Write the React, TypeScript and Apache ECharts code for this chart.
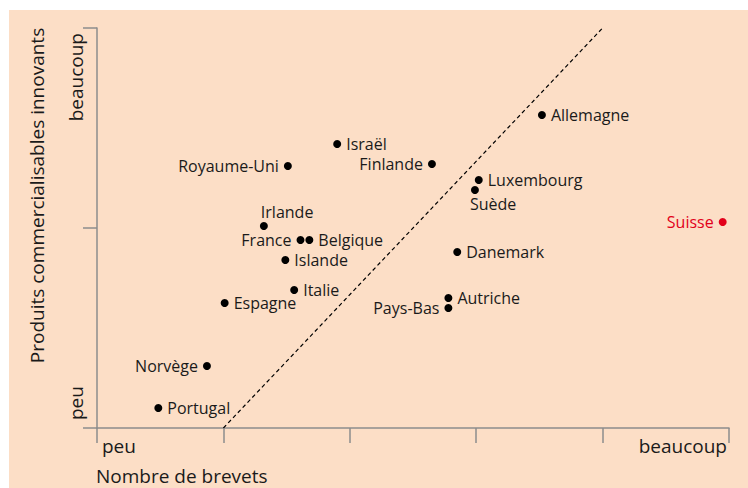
import React, { useEffect, useRef } from "react";
import * as echarts from "echarts";

// Data (x: nombre de brevets, y: produits innovants)
const countries = [
  "Allemagne", "Israël", "Royaume-Uni", "Finlande", "Luxembourg", "Suède",
  "Suisse", "Irlande", "France", "Belgique", "Islande", "Danemark",
  "Italie", "Autriche", "Pays-Bas", "Espagne", "Norvège", "Portugal",
];
const patents = [
  3.52, 1.90, 1.51, 2.65, 3.02, 2.99,
  4.95, 1.32, 1.61, 1.68, 1.49, 2.85,
  1.56, 2.78, 2.78, 1.01, 0.87, 0.485,
];
const products = [
  1.565, 1.42, 1.31, 1.32, 1.24, 1.19,
  1.03, 1.01, 0.94, 0.94, 0.84, 0.88,
  0.69, 0.65, 0.60, 0.625, 0.31, 0.10,
];
const diagonalX = [1, 4];
const diagonalY = [0, 2];
const xTickLabels = ["peu", "beaucoup"];
const yTickLabels = ["peu", "beaucoup"];
const xAxisName = "Nombre de brevets";
const yAxisName = "Produits commercialisables innovants";
const highlighted = "Suisse";

// label placement (layout only)
const labelSide: Record<string, string> = {
  "Royaume-Uni": "left",
  Finlande: "left",
  Suisse: "left",
  France: "left",
  "Pays-Bas": "left",
  Norvège: "left",
  Irlande: "top",
  Suède: "bottom",
};

const FONT = "'Open Sans', 'Noto Sans', sans-serif";
const AXIS_COLOR = "#8c8c8c";
const TEXT_COLOR = "#1a1a1a";
const RED = "#e2001a";

export default function App() {
  const ref = useRef<HTMLDivElement>(null);
  useEffect(() => {
    if (!ref.current) return;
    const chart = echarts.init(ref.current, undefined, { renderer: "svg" });

    const points = countries.map((name, i) => {
      const side = labelSide[name] || "right";
      const isRed = name === highlighted;
      const label: any = {
        show: true,
        position: side,
        distance: 5,
        formatter: "{b}",
        fontSize: 16,
        fontFamily: FONT,
        color: isRed ? RED : TEXT_COLOR,
      };
      if (side === "top") {
        label.align = "left";
        label.offset = [-3, 0];
        label.distance = 2;
      }
      if (side === "bottom") {
        label.align = "left";
        label.offset = [-5, 0];
        label.distance = 2;
      }
      return {
        name,
        value: [patents[i], products[i]],
        itemStyle: { color: isRed ? RED : "#000", opacity: 1 },
        label,
      };
    });

    const axisLineStyle = { color: AXIS_COLOR, width: 1.5 };

    chart.setOption({
      animation: false,
      backgroundColor: "transparent",
      grid: { left: 88, right: 19, top: 18, bottom: 60, containLabel: false },
      xAxis: {
        type: "value",
        min: 0,
        max: 5,
        interval: 1,
        axisLine: { show: true, onZero: false, lineStyle: axisLineStyle },
        axisTick: { show: true, length: 15, lineStyle: axisLineStyle },
        axisLabel: { show: false },
        splitLine: { show: false },
      },
      yAxis: {
        type: "value",
        min: 0,
        max: 2,
        interval: 1,
        axisLine: { show: true, onZero: false, lineStyle: axisLineStyle },
        axisTick: { show: true, length: 14, lineStyle: axisLineStyle },
        axisLabel: { show: false },
        splitLine: { show: false },
      },
      series: [
        {
          type: "line",
          data: diagonalX.map((x, i) => [x, diagonalY[i]]),
          symbol: "none",
          silent: true,
          lineStyle: { color: "#000", width: 1.2, type: [4, 3], opacity: 1 },
          z: 1,
        },
        {
          type: "scatter",
          symbol: "circle",
          symbolSize: 8,
          itemStyle: { opacity: 1 },
          data: points,
          z: 3,
        },
      ],
      graphic: [
        {
          type: "text",
          x: 93,
          y: 436,
          style: {
            text: xTickLabels[0],
            font: `19px ${FONT}`,
            fill: TEXT_COLOR,
            textAlign: "left",
            textVerticalAlign: "middle",
          },
        },
        {
          type: "text",
          x: 718,
          y: 436,
          style: {
            text: xTickLabels[1],
            font: `19px ${FONT}`,
            fill: TEXT_COLOR,
            textAlign: "right",
            textVerticalAlign: "middle",
          },
        },
        {
          type: "text",
          x: 87,
          y: 466,
          style: {
            text: xAxisName,
            font: `19px ${FONT}`,
            fill: TEXT_COLOR,
            textAlign: "left",
            textVerticalAlign: "middle",
          },
        },
        {
          type: "text",
          x: 66.5,
          y: 410,
          rotation: Math.PI / 2,
          style: {
            text: yTickLabels[0],
            font: `19px ${FONT}`,
            fill: TEXT_COLOR,
            textAlign: "left",
            textVerticalAlign: "middle",
          },
        },
        {
          type: "text",
          x: 66.5,
          y: 23,
          rotation: Math.PI / 2,
          style: {
            text: yTickLabels[1],
            font: `19px ${FONT}`,
            fill: TEXT_COLOR,
            textAlign: "right",
            textVerticalAlign: "middle",
          },
        },
        {
          type: "text",
          x: 27.6,
          y: 185.5,
          rotation: Math.PI / 2,
          style: {
            text: yAxisName,
            font: `19px ${FONT}`,
            fill: TEXT_COLOR,
            textAlign: "center",
            textVerticalAlign: "middle",
          },
        },
      ],
    });
    return () => chart.dispose();
  }, []);

  return (
    <div
      style={{
        position: "absolute",
        left: 0,
        top: 0,
        width: 748,
        height: 488,
        background: "#ffffff",
      }}
    >
      <div
        ref={ref}
        style={{
          position: "absolute",
          left: 9,
          top: 10,
          width: 739,
          height: 478,
          background: "#fcdec6",
        }}
      />
    </div>
  );
}
